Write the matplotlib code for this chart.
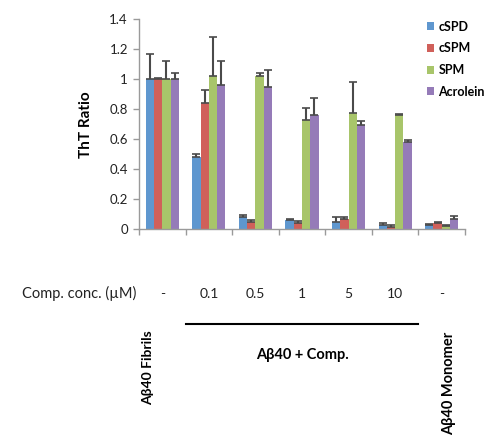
import matplotlib
matplotlib.use('Agg')
import matplotlib.pyplot as plt
import numpy as np

plt.rcParams['font.family'] = ['Lato', 'DejaVu Sans']

# ── Data ────────────────────────────────────────────────────────────────────
groups = ['Fibrils', '0.1', '0.5', '1', '5', '10', 'Monomer']
conc_labels = ['-', '0.1', '0.5', '1', '5', '10', '-']
series = ['cSPD', 'cSPM', 'SPM', 'Acrolein']

cspd     = [1.00, 0.48, 0.080, 0.062, 0.049, 0.029, 0.027]
cspd_err = [0.17, 0.02, 0.010, 0.005, 0.029, 0.009, 0.003]
cspm     = [1.00, 0.84, 0.044, 0.042, 0.069, 0.016, 0.038]
cspm_err = [0.01, 0.09, 0.013, 0.011, 0.011, 0.011, 0.008]
spm      = [1.00, 1.02, 1.020, 0.729, 0.778, 0.762, 0.020]
spm_err  = [0.12, 0.26, 0.020, 0.078, 0.207, 0.007, 0.003]
acro     = [1.00, 0.96, 0.947, 0.762, 0.693, 0.578, 0.065]
acro_err = [0.04, 0.165, 0.118, 0.113, 0.027, 0.018, 0.020]

values = [cspd, cspm, spm, acro]
errors = [cspd_err, cspm_err, spm_err, acro_err]

COLORS = ['#5F97CF', '#D0605A', '#A8C56A', '#957BB8']
GRAY = '#9A9A9A'
DARK = '#222222'

# ── Figure ──────────────────────────────────────────────────────────────────
fig = plt.figure(figsize=(5.0, 4.48), dpi=100)
ax = fig.add_axes([0.278, 0.489, 0.652, 0.4675])

x = np.arange(len(groups))
w = 0.178
for i, (vals, errs) in enumerate(zip(values, errors)):
    pos = x + (i - 1.5) * w
    ax.bar(pos, vals, width=w, color=COLORS[i], label=series[i], zorder=2)
    ax.errorbar(pos, vals, yerr=[np.zeros(len(errs)), errs], fmt='none',
                ecolor='#4A4A4A', elinewidth=1.5, capsize=3, capthick=1.2, zorder=3)

ax.set_xlim(-0.5, len(groups) - 0.5)
ax.set_ylim(0, 1.4)
ax.set_yticks(np.arange(0, 1.41, 0.2))
ax.set_yticklabels(['0', '0.2', '0.4', '0.6', '0.8', '1', '1.2', '1.4'])
ax.set_xticks(np.arange(-0.5, len(groups), 1.0))
ax.set_xticklabels([])

for side in ('top', 'right'):
    ax.spines[side].set_visible(False)
for side in ('left', 'bottom'):
    ax.spines[side].set_color(GRAY)
    ax.spines[side].set_linewidth(1)
ax.tick_params(axis='both', direction='out', color=GRAY, length=4, width=1)
ax.tick_params(axis='y', labelsize=9.5, labelcolor=DARK, pad=4)

ax.set_ylabel('ThT Ratio', fontsize=11, fontweight='bold', labelpad=12)

leg = ax.legend(loc='upper left', bbox_to_anchor=(0.882, 0.995), frameon=False,
                borderpad=0, borderaxespad=0,
                handlelength=0.6, handleheight=0.6, handletextpad=0.35,
                labelspacing=0.78, prop={'weight': 'bold', 'size': 9})

# ── Annotations below the axis ──────────────────────────────────────────────
tr = ax.get_xaxis_transform()
ax.text(-0.55, -0.31, 'Comp. conc. (\u00b5M)', transform=tr, ha='right', va='center',
        fontsize=10.5, color=DARK)
for xi, lab in zip(x, conc_labels):
    ax.text(xi, -0.31, lab, transform=tr, ha='center', va='center', fontsize=10, color=DARK)

ax.plot([0.5, 5.5], [-0.453, -0.453], transform=tr, color='black', lw=1.5, clip_on=False)
ax.text(3.0, -0.60, 'A\u03b240 + Comp.', transform=tr, ha='center', va='center',
        fontsize=10.5, fontweight='bold')
ax.text(-0.3, -0.482, 'A\u03b240 Fibrils', transform=tr, ha='center', va='top',
        rotation=90, fontsize=10, fontweight='bold')
ax.text(6.15, -0.49, 'A\u03b240 Monomer', transform=tr, ha='center', va='top',
        rotation=90, fontsize=10.5, fontweight='bold')

fig.savefig('out.png', dpi=100, facecolor='white')
